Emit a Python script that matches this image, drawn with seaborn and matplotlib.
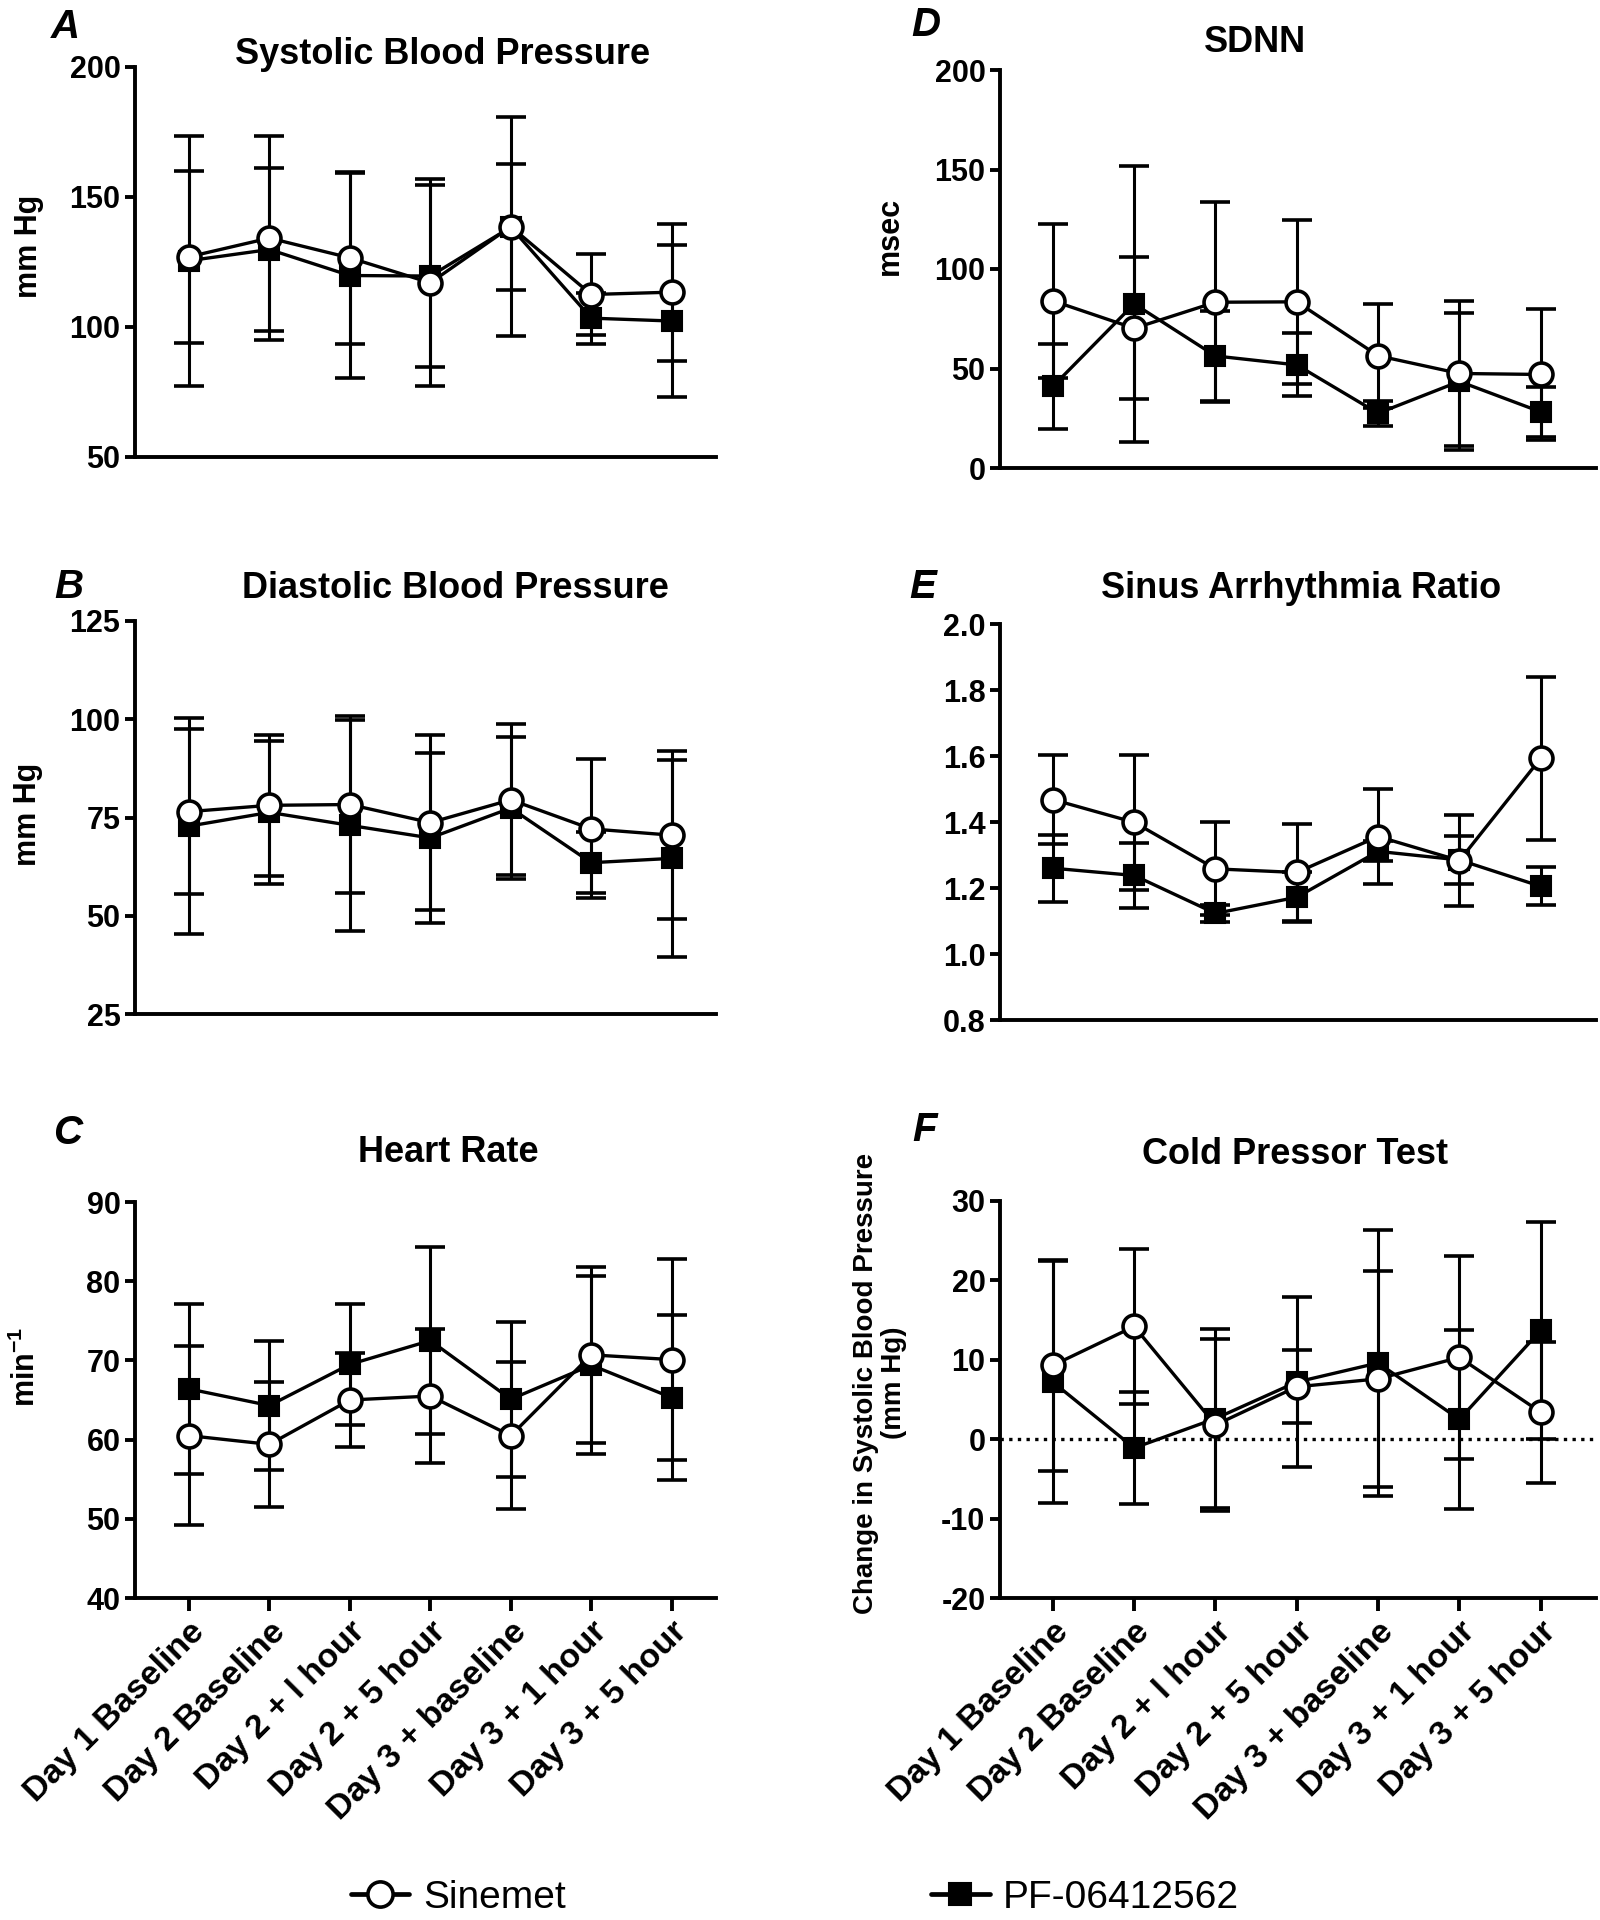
import matplotlib
matplotlib.use("Agg")
import matplotlib.pyplot as plt
import seaborn as sns
import numpy as np
import pandas as pd

# ---------------- data ----------------
timepoints = ["Day 1 Baseline", "Day 2 Baseline", "Day 2 + l hour", "Day 2 + 5 hour",
              "Day 3 + baseline", "Day 3 + 1 hour", "Day 3 + 5 hour"]
series_names = ["Sinemet", "PF-06412562"]

sbp_sinemet = [127.0, 134.2, 126.6, 117.0, 138.6, 112.5, 113.4]
sbp_sinemet_sd = [33.0, 39.3, 33.0, 39.8, 42.0, 15.5, 26.4]
sbp_pf = [125.5, 129.8, 119.8, 119.6, 138.4, 103.4, 102.3]
sbp_pf_sd = [48.0, 31.2, 39.4, 35.0, 24.3, 9.8, 29.2]

dbp_sinemet = [76.5, 78.1, 78.3, 73.7, 79.5, 72.1, 70.5]
dbp_sinemet_sd = [20.9, 17.9, 22.4, 22.3, 19.2, 17.7, 21.4]
dbp_pf = [72.8, 76.3, 73.0, 69.8, 77.4, 63.5, 64.6]
dbp_pf_sd = [27.5, 18.2, 26.9, 21.7, 18.0, 7.8, 25.0]

hr_sinemet = [60.5, 59.4, 65.0, 65.5, 60.5, 70.7, 70.1]
hr_sinemet_sd = [11.3, 7.9, 5.9, 8.5, 9.3, 11.1, 12.7]
hr_pf = [66.4, 64.3, 69.5, 72.5, 65.1, 69.4, 65.3]
hr_pf_sd = [10.7, 8.2, 7.6, 11.8, 9.8, 11.2, 10.4]

sdnn_sinemet = [84.0, 70.2, 83.3, 83.5, 56.4, 47.5, 47.0]
sdnn_sinemet_sd = [38.8, 35.7, 50.3, 41.2, 26.0, 36.5, 32.8]
sdnn_pf = [41.0, 82.5, 56.3, 51.8, 27.5, 43.5, 28.2]
sdnn_pf_sd = [21.5, 69.5, 22.8, 15.8, 6.2, 34.5, 12.6]

sar_sinemet = [1.468, 1.399, 1.258, 1.247, 1.356, 1.283, 1.593]
sar_sinemet_sd = [0.135, 0.204, 0.141, 0.147, 0.144, 0.137, 0.247]
sar_pf = [1.260, 1.238, 1.123, 1.172, 1.311, 1.285, 1.205]
sar_pf_sd = [0.101, 0.098, 0.025, 0.076, 0.030, 0.072, 0.058]

cpt_sinemet = [9.3, 14.2, 1.8, 6.6, 7.6, 10.3, 3.4]
cpt_sinemet_sd = [13.3, 9.8, 10.8, 4.6, 13.6, 12.8, 8.9]
cpt_pf = [7.2, -1.1, 2.6, 7.2, 9.6, 2.5, 13.7]
cpt_pf_sd = [15.2, 7.0, 11.3, 10.7, 16.8, 11.3, 13.7]

panel_letters = ["A", "B", "C", "D", "E", "F"]
panel_titles = ["Systolic Blood Pressure", "Diastolic Blood Pressure", "Heart Rate",
                "SDNN", "Sinus Arrhythmia Ratio", "Cold Pressor Test"]
panel_ylabels = ["mm Hg", "mm Hg", r"min$^{-1}$", "msec", "",
                 "Change in Systolic Blood Pressure\n(mm Hg)"]
panel_ylims = [(50, 200), (25, 125), (40, 90), (0, 200), (0.8, 2.0), (-20, 30)]
panel_yticks = [[50, 100, 150, 200], [25, 50, 75, 100, 125], [40, 50, 60, 70, 80, 90],
                [0, 50, 100, 150, 200], [0.8, 1.0, 1.2, 1.4, 1.6, 1.8, 2.0],
                [-20, -10, 0, 10, 20, 30]]
panel_ytick_labels = [None, None, None, None,
                      ["0.8", "1.0", "1.2", "1.4", "1.6", "1.8", "2.0"],
                      ["-20", "-10", "0", "10", "20", "30"]]
panel_data = [
    (sbp_sinemet, sbp_sinemet_sd, sbp_pf, sbp_pf_sd),
    (dbp_sinemet, dbp_sinemet_sd, dbp_pf, dbp_pf_sd),
    (hr_sinemet, hr_sinemet_sd, hr_pf, hr_pf_sd),
    (sdnn_sinemet, sdnn_sinemet_sd, sdnn_pf, sdnn_pf_sd),
    (sar_sinemet, sar_sinemet_sd, sar_pf, sar_pf_sd),
    (cpt_sinemet, cpt_sinemet_sd, cpt_pf, cpt_pf_sd),
]

# ---------------- style ----------------
sns.set_theme(style="ticks")
plt.rcParams["font.family"] = ["Liberation Sans", "DejaVu Sans"]
plt.rcParams["axes.unicode_minus"] = False
plt.rcParams["text.color"] = "black"
plt.rcParams["axes.labelcolor"] = "black"
plt.rcParams["xtick.color"] = "black"
plt.rcParams["ytick.color"] = "black"
plt.rcParams["mathtext.fontset"] = "custom"
plt.rcParams["mathtext.rm"] = "Liberation Sans:bold"
plt.rcParams["mathtext.it"] = "Liberation Sans:bold"
plt.rcParams["mathtext.bf"] = "Liberation Sans:bold"
plt.rcParams["mathtext.default"] = "bf"

W, H = 1600, 1920
fig = plt.figure(figsize=(16, 19.2), dpi=100)

def fx(px):
    return px / W

def fy(py):
    return 1 - py / H

# axes rectangles in pixel coordinates: left, top, right, bottom
rects = [
    (135, 67, 716, 457),
    (135, 621, 716, 1014),
    (135, 1202, 716, 1598),
    (1000, 70, 1596, 468),
    (1000, 624, 1596, 1020),
    (1000, 1201, 1596, 1598),
]
xlims = [(-0.67, 6.55)] * 3 + [(-0.65, 6.68)] * 3
title_pos = [(443, 55), (455, 588), (448, 1152), (1255, 42), (1301, 589), (1295, 1154)]
letter_pos = [(65, 27), (69, 587), (68, 1133), (926, 25), (923, 587), (925, 1130)]
ylabel_pos = [(29, 246), (28, 814), (26, 1367), (890, 236), None, (880, 1383)]

LW_AX = 2.8
x = np.arange(len(timepoints))
legend_handles = None

for i in range(6):
    l, t, r, b = rects[i]
    ax = fig.add_axes([fx(l), fy(b), (r - l) / W, (b - t) / H])
    sin, sin_sd, pf, pf_sd = panel_data[i]
    df = pd.DataFrame({"x": np.concatenate([x, x]),
                       "y": np.concatenate([sin, pf]),
                       "sd": np.concatenate([sin_sd, pf_sd]),
                       "group": [series_names[0]] * 7 + [series_names[1]] * 7})

    if i == 5:
        ax.axhline(0, color="black", lw=2.4, ls=(0, (1, 1.6)), zorder=1)

    for g in [series_names[1], series_names[0]]:
        d = df[df["group"] == g]
        ax.errorbar(d["x"], d["y"], yerr=d["sd"], fmt="none", ecolor="black",
                    elinewidth=2.2, capsize=10.5, capthick=2.6, zorder=2)
    sns.lineplot(data=df[df["group"] == series_names[1]], x="x", y="y", ax=ax,
                 color="black", linewidth=2.4, marker="s", markersize=15,
                 markerfacecolor="black", markeredgecolor="black",
                 markeredgewidth=1.5, label=series_names[1], zorder=3,
                 errorbar=None)
    sns.lineplot(data=df[df["group"] == series_names[0]], x="x", y="y", ax=ax,
                 color="black", linewidth=2.4, marker="o", markersize=16.5,
                 markerfacecolor="white", markeredgecolor="black",
                 markeredgewidth=2.6, label=series_names[0], zorder=4,
                 errorbar=None)
    if legend_handles is None:
        legend_handles, legend_labels = ax.get_legend_handles_labels()
    if ax.get_legend() is not None:
        ax.get_legend().remove()

    ax.set_xlim(*xlims[i])
    ax.set_ylim(*panel_ylims[i])
    ax.set_yticks(panel_yticks[i])
    if panel_ytick_labels[i] is not None:
        ax.set_yticklabels(panel_ytick_labels[i])
    ax.set_xlabel("")
    ax.set_ylabel("")
    for s in ["top", "right"]:
        ax.spines[s].set_visible(False)
    for s in ["left", "bottom"]:
        ax.spines[s].set_linewidth(LW_AX)
        ax.spines[s].set_color("black")
    ax.tick_params(axis="y", direction="out", length=7.5, width=LW_AX, pad=3,
                   labelsize=22, colors="black")
    for lab in ax.get_yticklabels():
        lab.set_fontweight("bold")
    if i in (2, 5):
        ax.set_xticks(x)
        ax.set_xticklabels(timepoints, rotation=45, ha="right", va="top",
                           rotation_mode="anchor", fontsize=24.5, fontweight="bold")
        ax.tick_params(axis="x", direction="out", length=9, width=LW_AX, pad=4,
                       colors="black")
    else:
        ax.set_xticks([])

    tx, ty = title_pos[i]
    fig.text(fx(tx), fy(ty), panel_titles[i], ha="center", va="center",
             fontsize=26, fontweight="bold", color="black")
    lx, ly = letter_pos[i]
    fig.text(fx(lx), fy(ly), panel_letters[i], ha="center", va="center",
             fontsize=29, fontweight="bold", fontstyle="italic", color="black")
    if ylabel_pos[i] is not None:
        yx, yy = ylabel_pos[i]
        fig.text(fx(yx), fy(yy), panel_ylabels[i], ha="center", va="center",
                 rotation=90, fontsize=22 if i < 5 else 20, fontweight="bold",
                 multialignment="center", linespacing=1.1, color="black")

order = [legend_labels.index(n) for n in series_names]
leg = fig.legend([legend_handles[k] for k in order], series_names,
                 loc="center", bbox_to_anchor=(0.497, fy(1898)),
                 ncol=2, frameon=False, fontsize=28, handlelength=1.5,
                 handletextpad=0.35, columnspacing=9.4, markerscale=1.1,
                 borderpad=0, labelcolor="black")
for h in leg.legend_handles:
    h.set_linewidth(3.4)

fig.savefig("out.png", dpi=100, facecolor="white")
